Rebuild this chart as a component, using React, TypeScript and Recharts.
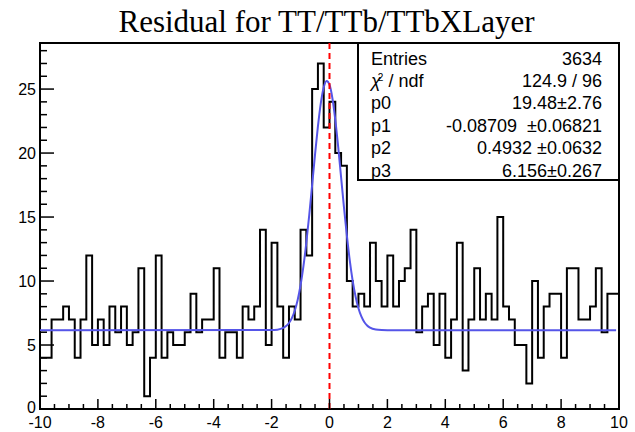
import React from 'react';
import { LineChart, Line, XAxis, YAxis, ReferenceLine, ReferenceArea } from 'recharts';

// histogram: 100 bins from -10 to 10
const HIST_MIN = -10;
const BIN_WIDTH = 0.2;
const binCounts = [
  4, 4, 7, 7, 8, 7, 4, 7, 12, 5,
  7, 5, 8, 6, 8, 5, 6, 11, 1, 4,
  12, 4, 6, 5, 5, 6, 9, 6, 7, 7,
  11, 4, 6, 6, 4, 8, 7, 8, 14, 5,
  13, 8, 4, 8, 7, 14, 12, 25, 27, 22,
  24, 20, 19, 10, 8, 9, 8, 13, 10, 8,
  12, 8, 10, 11, 14, 6, 8, 9, 5, 9,
  4, 7, 13, 3, 7, 11, 7, 9, 7, 15,
  8, 7, 5, 5, 2, 10, 4, 8, 9, 9,
  4, 11, 11, 7, 7, 8, 11, 6, 9, 9,
];

// fitted curve
const fitX = [-10, -2, -1.8, -1.6, -1.5, -1.4, -1.3, -1.2, -1.1, -1.0, -0.9, -0.8, -0.7, -0.6, -0.5, -0.4, -0.3, -0.2, -0.1, 0,
  0.1, 0.2, 0.3, 0.4, 0.5, 0.6, 0.7, 0.8, 0.9, 1.0, 1.1, 1.2, 1.3, 1.4, 1.6, 1.8, 2.0, 9.9];
const fitY = [6.16, 6.17, 6.2, 6.33, 6.48, 6.72, 7.1, 7.68, 8.52, 9.67, 11.16, 13.01, 15.15, 17.5, 19.88, 22.08, 23.9, 25.13, 25.63, 25.34,
  24.28, 22.6, 20.48, 18.12, 15.75, 13.54, 11.61, 10.02, 8.79, 7.87, 7.23, 6.8, 6.53, 6.36, 6.21, 6.17, 6.16, 6.16];

const xMajorTicks = [-10, -8, -6, -4, -2, 0, 2, 4, 6, 8, 10];
const yMajorTicks = [0, 5, 10, 15, 20, 25];
const X_DOMAIN: [number, number] = [-10, 10];
const Y_MAX = 28.6;

const statLabels = ['Entries', 'chi2', 'p0', 'p1', 'p2', 'p3'];
const statValues = ['3634', '124.9 / 96', '19.48\u00b12.76', '-0.08709  \u00b10.06821', '0.4932 \u00b10.0632', '6.156\u00b10.267'];

const title = 'Residual for TT/TTb/TTbXLayer';

const histData = binCounts
  .map((c, i) => ({ x: +(HIST_MIN + i * BIN_WIDTH).toFixed(2), y: c }))
  .concat([{ x: X_DOMAIN[1], y: binCounts[binCounts.length - 1] }]);
const fitData = fitX.map((x, i) => ({ x, y: fitY[i] }));

const xTicks: number[] = [];
for (let v = X_DOMAIN[0]; v <= X_DOMAIN[1] + 1e-9; v += 0.5) xTicks.push(+v.toFixed(2));
const yTicks: number[] = [];
for (let v = 0; v <= 28; v++) yTicks.push(v);

const SANS = '"Liberation Sans", Arial, Helvetica, sans-serif';

const XTick = (props: any) => {
  const { x, y, payload } = props;
  const v = payload.value;
  const major = xMajorTicks.includes(v);
  const len = major ? 10 : 5;
  return (
    <g>
      <line x1={x} x2={x} y1={y} y2={y - len} stroke="#000" strokeWidth={1.5} />
      {major && (
        <text x={x} y={y + 19} textAnchor="middle" fontSize={16} fontFamily={SANS} fill="#000">
          {v}
        </text>
      )}
    </g>
  );
};

const YTick = (props: any) => {
  const { x, y, payload } = props;
  const v = payload.value;
  const major = yMajorTicks.includes(v);
  const len = major ? 14 : 7;
  return (
    <g>
      <line x1={x} x2={x + len} y1={y} y2={y} stroke="#000" strokeWidth={1.5} />
      {major && (
        <text x={x - 4} y={v === 0 ? y + 4 : y + 6} textAnchor="end" fontSize={16} fontFamily={SANS} fill="#000">
          {v}
        </text>
      )}
    </g>
  );
};

const StatsBox = () => {
  const left = 358, top = 43, w = 261, h = 137;
  const rowY = [22, 44.3, 66, 88.7, 111.3, 133.7];
  return (
    <g transform={`translate(${left},${top})`}>
      <rect x={0} y={0} width={w} height={h} fill="#fff" />
      {statLabels.map((lab, i) => (
        <text key={lab} x={13} y={rowY[i]} fontSize={18} fontFamily={SANS} fill="#000">
          {lab === 'chi2' ? (
            <>
              <tspan fontStyle="italic">χ</tspan>
              <tspan dy={-6} dx={-3} fontSize={10}>2</tspan>
              <tspan dy={6}> / ndf</tspan>
            </>
          ) : (
            lab
          )}
        </text>
      ))}
      {statValues.map((val, i) => (
        <text key={i} x={w - 17} y={rowY[i]} textAnchor="end" fontSize={18} fontFamily={SANS} fill="#000" style={{ whiteSpace: 'pre' }}>
          {val}
        </text>
      ))}
      <rect x={0} y={0} width={w} height={h} fill="none" stroke="#000" strokeWidth={2} />
    </g>
  );
};

export default function App() {
  return (
    <div style={{ position: 'absolute', left: 0, top: 0, width: 635, height: 432, background: '#fff' }}>
      <LineChart width={635} height={432} margin={{ top: 43, right: 16, bottom: 0, left: 0 }}>
        <XAxis
          type="number"
          dataKey="x"
          domain={X_DOMAIN}
          ticks={xTicks}
          interval={0}
          height={23}
          tickSize={0}
          tickMargin={0}
          axisLine={false}
          tick={XTick}
          allowDataOverflow
        />
        <YAxis
          type="number"
          dataKey="y"
          domain={[0, Y_MAX]}
          ticks={yTicks}
          interval={0}
          width={40}
          tickSize={0}
          tickMargin={0}
          axisLine={false}
          tick={YTick}
          allowDataOverflow
        />
        <ReferenceArea x1={X_DOMAIN[0]} x2={X_DOMAIN[1]} y1={0} y2={Y_MAX} fill="none" fillOpacity={0} stroke="#000" strokeWidth={2} />
        <Line
          data={histData}
          dataKey="y"
          type="stepAfter"
          stroke="#000"
          strokeWidth={2}
          dot={false}
          activeDot={false}
          isAnimationActive={false}
        />
        <Line
          data={fitData}
          dataKey="y"
          type="monotone"
          stroke="#5555e8"
          strokeWidth={2}
          dot={false}
          activeDot={false}
          isAnimationActive={false}
        />
        <ReferenceLine x={0} stroke="#ff0000" strokeWidth={2} strokeDasharray="6 4" />
      </LineChart>
      <svg width={635} height={432} style={{ position: 'absolute', left: 0, top: 0, pointerEvents: 'none', overflow: 'visible' }}>
        <text x={326.5} y={32} textAnchor="middle" fontSize={31} fontFamily='"Liberation Serif", "Times New Roman", serif' fill="#000">
          {title}
        </text>
        <StatsBox />
      </svg>
    </div>
  );
}
